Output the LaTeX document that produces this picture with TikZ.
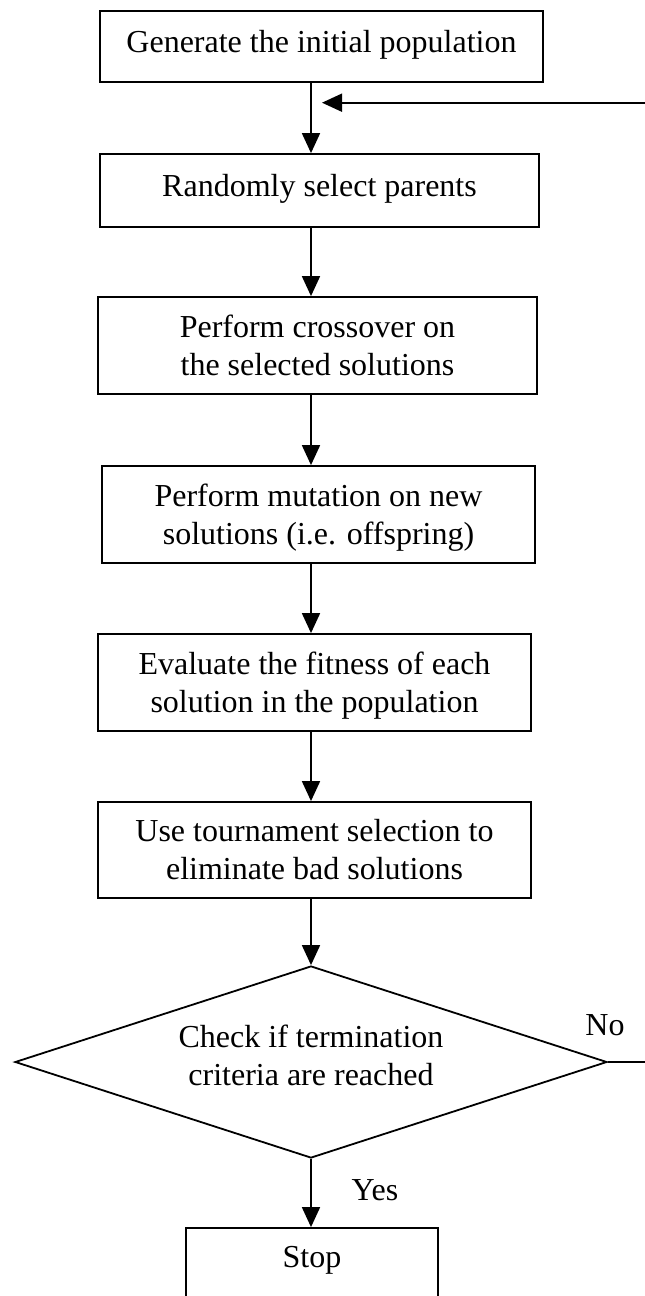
\documentclass[tikz,border=0pt]{standalone}
\usepackage{fontspec}
\setmainfont{Liberation Serif}
\usetikzlibrary{shapes.geometric,arrows.meta}

\begin{document}
\begin{tikzpicture}[x=1pt,y=-1pt,
    font=\fontsize{32}{38}\selectfont,
    every path/.style={line width=1.8pt},
    stepbox/.style={draw, rectangle, inner sep=0pt, align=center},
    oneline/.style={text height=23pt, text depth=12pt},
    twoline/.style={text height=66pt, text depth=7pt},
    decision/.style={draw, diamond, inner sep=0pt, align=center,
        aspect=3.08, minimum width=592pt, minimum height=192pt,
        text height=53pt, text depth=7pt},
    flow/.style={-{Triangle[length=20pt,width=18pt]}},
    tag/.style={anchor=base, inner sep=0pt}]

  \useasboundingbox (0,0) rectangle (645,1296);

  % main column of the flowchart
  \coordinate (axis) at (311,0);

  \node[stepbox, oneline, minimum width=443pt, minimum height=71pt]
    (gen) at (321.5,46.5) {Generate the initial population};
  \node[stepbox, oneline, minimum width=439pt, minimum height=73pt]
    (sel) at (319.5,190.5) {Randomly select parents};
  \node[stepbox, twoline, minimum width=439pt, minimum height=97pt]
    (cross) at (317.5,345.5) {Perform crossover on\\the selected solutions};
  \node[stepbox, twoline, minimum width=433pt, minimum height=97pt]
    (mut) at (318.5,514.5) {Perform mutation on new\\solutions (i.e. offspring)};
  \node[stepbox, twoline, minimum width=433pt, minimum height=97pt]
    (eval) at (314.5,682.5) {Evaluate the fitness of each\\solution in the population};
  \node[stepbox, twoline, minimum width=433pt, minimum height=96pt]
    (tour) at (314.5,850) {Use tournament selection to\\eliminate bad solutions};
  \node[decision] (chk) at (311,1062) {Check if termination\\criteria are reached};
  \node[stepbox, text height=23pt, text depth=25pt, minimum width=252pt, minimum height=80pt]
    (stop) at (312,1268) {Stop};

  % branch labels
  \node[tag] (no) at (605,1035) {No};
  \node[tag] (yes) at (375,1200) {Yes};

  % entry point of the loop back into the column
  \coordinate (loopin) at (322,102.7);

  % connectors
  \draw[flow] (gen.south -| axis) -- (sel.north -| axis);
  \draw[flow] (sel.south -| axis) -- (cross.north -| axis);
  \draw[flow] (cross.south -| axis) -- (mut.north -| axis);
  \draw[flow] (mut.south -| axis) -- (eval.north -| axis);
  \draw[flow] (eval.south -| axis) -- (tour.north -| axis);
  \draw[flow] (tour.south -| axis) -- (chk.north);
  \draw[flow] (chk.south) -- (stop.north -| chk.south);
  \draw[flow] (chk.east) -- ++(60,0) |- (loopin);
\end{tikzpicture}
\end{document}
